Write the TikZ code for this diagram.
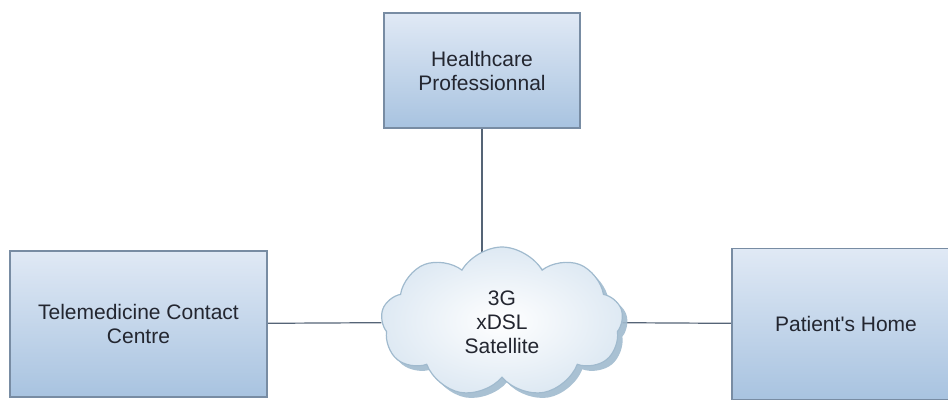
\documentclass[tikz,border=0pt]{standalone}
\usepackage{fontspec}
\setmainfont{Liberation Sans}
\usetikzlibrary{shapes.symbols,shadows,backgrounds}

\definecolor{boxtop}{RGB}{224,233,245}
\definecolor{boxbot}{RGB}{168,195,224}
\definecolor{boxline}{RGB}{120,140,163}
\definecolor{wire}{RGB}{85,100,118}
\definecolor{cloudedge}{RGB}{160,186,206}
\definecolor{cloudin}{RGB}{222,233,243}
\definecolor{txt}{RGB}{35,38,48}

\tikzset{
  site/.style={draw=boxline, line width=0.6pt, top color=boxtop, bottom color=boxbot,
    align=center, text=txt, font=\fontsize{10.5}{12}\selectfont},
  net/.style={cloud, cloud puffs=9, cloud puff arc=120, aspect=1.6,
    draw=cloudedge, line width=0.6pt, inner color=white, outer color=cloudin,
    drop shadow={fill=cloudedge, shadow xshift=2.5pt, shadow yshift=-2.5pt, opacity=0.9},
    align=center, text=txt, font=\fontsize{10.5}{12}\selectfont},
  wire/.style={draw=wire, line width=0.6pt}
}

\begin{document}
\begin{tikzpicture}[x=0.5pt, y=-0.5pt]
            \useasboundingbox (0,0) rectangle (948,403);

            \node[site, minimum width=98pt, minimum height=57.5pt] (prof) at (482, 70.5) {Healthcare\\Professionnal};
            \node[site, minimum width=128.5pt, minimum height=73pt] (tcc) at (138.5, 324) {Telemedicine Contact\\Centre};
            \node[site, minimum width=114pt, minimum height=75.5pt] (home) at (846, 324) {Patient\textquotesingle s Home};
            \node[net, minimum width=121pt, minimum height=75pt] (inet) at (502, 322) {3G\\xDSL\\Satellite};

            \begin{pgfonlayer}{background}
            \draw[wire] (prof) -- (prof |- inet);
            \draw[wire] (tcc) -- (inet);
            \draw[wire] (inet) -- (home);
            \end{pgfonlayer}
        \end{tikzpicture}
\end{document}
